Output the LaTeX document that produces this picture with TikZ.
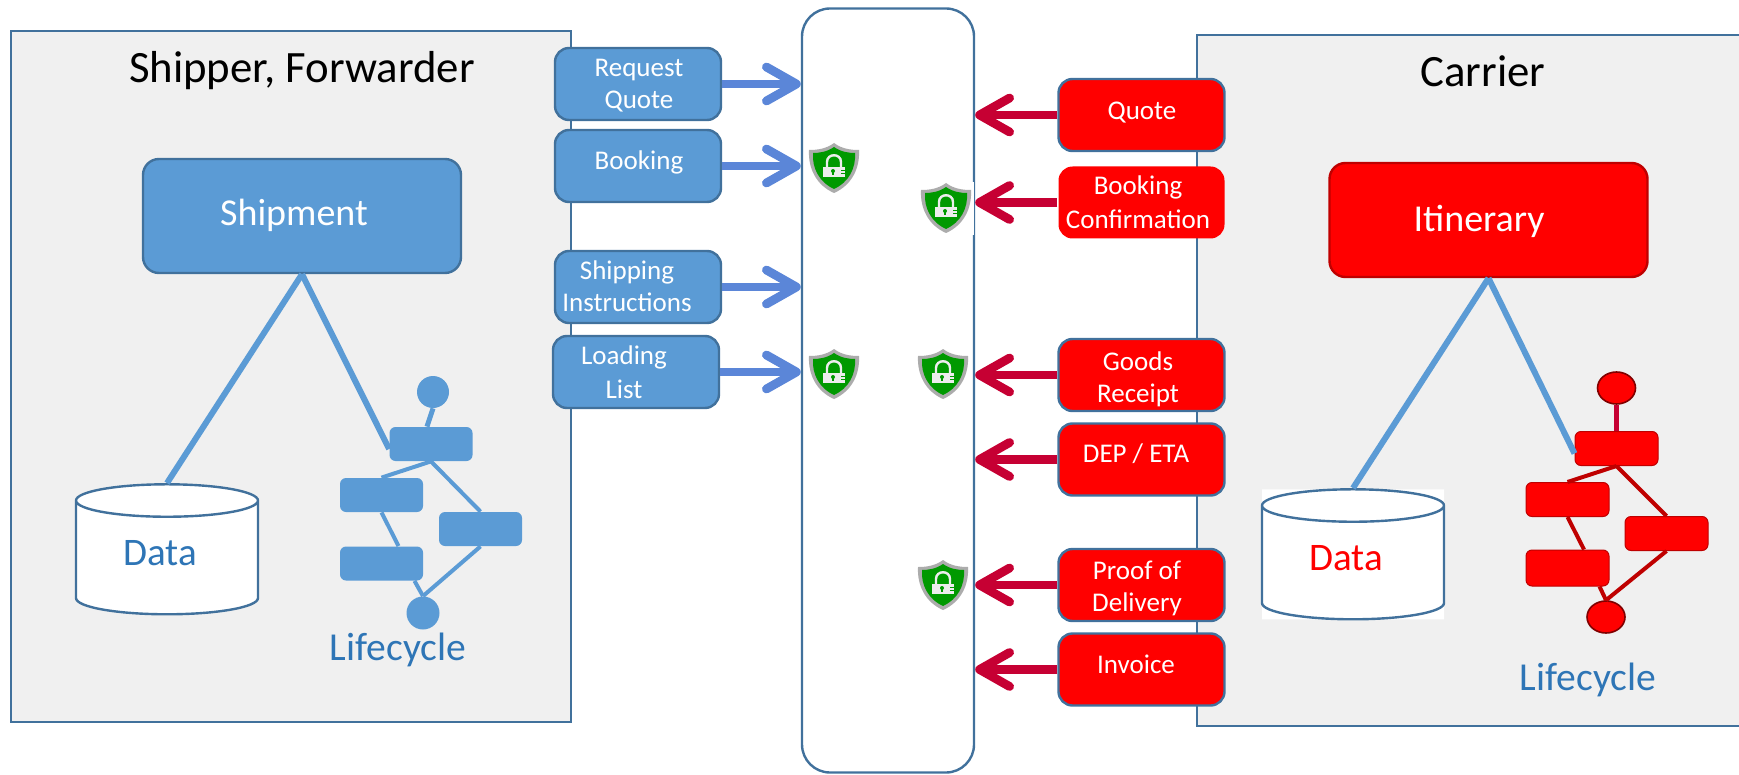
\documentclass[tikz,border=0pt]{standalone}
\usepackage{fontspec}
\setmainfont{Carlito}
\usetikzlibrary{arrows.meta,shapes.geometric}
\definecolor{paneledge}{HTML}{41719C}
\definecolor{panelgrey}{HTML}{F0F0F0}
\definecolor{msblue}{HTML}{5B9BD5}
\definecolor{flowblue}{HTML}{5B86D8}
\definecolor{flowred}{HTML}{C60033}
\definecolor{textblue}{HTML}{2E75B6}
\definecolor{shieldgreen}{HTML}{009900}
\tikzset{
    panel/.style={draw=paneledge, fill=panelgrey, line width=1.2pt, inner sep=0},
    bluebox/.style={draw=paneledge, fill=msblue, line width=1.2pt, rounded corners=7pt, minimum width=83pt, minimum height=36pt, inner sep=0},
    redbox/.style={draw=paneledge, fill=red, line width=1.2pt, rounded corners=7pt, minimum width=83pt, minimum height=36pt, inner sep=0},
    boxtext/.style={text=white, align=center, font=\fontsize{13.5}{16}\selectfont, inner sep=0},
    bigtext/.style={text=white, font=\fontsize{19}{22}\selectfont, inner sep=0},
    sidetitle/.style={font=\fontsize{22.4}{26}\selectfont, inner sep=0},
    lifetext/.style={text=textblue, font=\fontsize{19.8}{24}\selectfont, inner sep=0},
    bluestep/.style={fill=msblue, rounded corners=3pt, minimum width=41.5pt, minimum height=17pt, inner sep=0},
    redstep/.style={draw=red!75!black, fill=red, line width=.5pt, rounded corners=3pt, minimum width=41.5pt, minimum height=17pt, inner sep=0},
    datacyl/.style={cylinder, shape border rotate=90, shape aspect=.374, draw=paneledge, line width=1.2pt, minimum width=91pt, minimum height=65pt, inner sep=0, font=\fontsize{19.5}{24}\selectfont},
    blueflow/.style={draw=flowblue, line width=4.4pt, -{Straight Barb[length=15pt, width=17pt, round]}},
    redflow/.style={draw=flowred, line width=4.4pt, -{Straight Barb[length=15pt, width=17pt, round]}},
    shield/.pic={
        \fill [gray!65] (0,-25) .. controls (-8,-19) and (-17,-18) .. (-25,-18) .. controls (-26,0) and (-18,17) .. (0,25) .. controls (18,17) and (26,0) .. (25,-18) .. controls (17,-18) and (8,-19) .. (0,-25) -- cycle;
        \fill [shieldgreen] (0,-21) .. controls (-7,-16) and (-15,-15) .. (-21,-15) .. controls (-22,0) and (-15,14) .. (0,21) .. controls (15,14) and (22,0) .. (21,-15) .. controls (15,-15) and (7,-16) .. (0,-21) -- cycle;
        \draw [white!93!black, line width=1.2pt] (-7,-1) -- (-7,-6) .. controls (-7,-15) and (7,-15) .. (7,-6) -- (7,-1);
        \fill [white!93!black] (-11,-1) -- (11,-1) -- (11,9) -- (-11,9) -- cycle;
        \fill [shieldgreen] (-1,3) circle (1pt);
        \fill [shieldgreen] (-2,3) -- (0,3) -- (0,7) -- (-2,7) -- cycle;
        \draw [shieldgreen, line width=.4pt] (7,2) -- (11,2) (7,5) -- (11,5);
    }
}
\begin{document}
\begin{tikzpicture}[x=0.5pt, y=-0.5pt]
    \useasboundingbox (0,0) rectangle (1739,775);
    % the two side panels and the hub between them
    \node [panel, minimum width=280pt, minimum height=345.5pt] (shipper) at (291,376.5) {};
    \node [panel, minimum width=300pt, minimum height=345.5pt] (carrier) at (1497,380.5) {};
    \node [draw=paneledge, fill=white, line width=1.2pt, rounded corners=14pt, minimum width=86pt, minimum height=382pt] (hub) at (888,390.5) {};
    \node [sidetitle] (shippertitle) at (302,71) {Shipper, Forwarder};
    \node [sidetitle] (carriertitle) at (1483,71) {Carrier};

    % left side
    \node [bluebox, minimum width=159pt, minimum height=57pt, rounded corners=8pt] (shipment) at (302,216) {};
    \node [bigtext] (shipmenttext) at (294,215) {Shipment};
    \node [datacyl, fill=white, text=textblue] (bluedata) at (167,558) {\raisebox{5.5pt}{Data\kern6.6pt}};
    \node [circle, fill=msblue, minimum size=16pt, inner sep=0] (bluestart) at (433,392) {};
    \node [bluestep] (blueone) at (431,444) {};
    \node [bluestep] (bluetwo) at (381.5,495) {};
    \node [bluestep] (bluethree) at (480.5,529) {};
    \node [bluestep] (bluefour) at (381.5,563.5) {};
    \node [circle, fill=msblue, minimum size=16.5pt, inner sep=0] (blueend) at (423,613) {};
    \node [lifetext] (bluelife) at (398,650) {Lifecycle};
    \draw [msblue, line width=3pt] (shipment.south) -- (bluedata.top);
    \draw [msblue, line width=3pt] (shipment.south) -- ([yshift=-2.5pt]blueone.west);
    \draw [msblue, line width=2.5pt] (bluestart.south) -- ([xshift=-2pt]blueone.north);
    \draw [msblue, line width=2pt] (blueone.south) -- (bluetwo.north);
    \draw [msblue, line width=2pt] (blueone.south) -- (bluethree.north);
    \draw [msblue, line width=2pt] (bluetwo.south) -- ([xshift=8.5pt]bluefour.north);
    \draw [msblue, line width=2pt] ([xshift=16.5pt]bluefour.south) -- (blueend.north);
    \draw [msblue, line width=2pt] (bluethree.south) -- (blueend.north);

    % right side
    \node [redbox, draw=red!75!black, minimum width=159pt, minimum height=57pt, rounded corners=8pt] (itinerary) at (1488.5,220) {};
    \node [bigtext] (itinerarytext) at (1479,221) {Itinerary};
    \node [datacyl, draw=none, fill=white] (redback) at (1353,555) {};
    \node [datacyl, text=red] (reddata) at (1353,563) {\raisebox{5.5pt}{Data\kern6.6pt}};
    \node [ellipse, draw=red!50!black, fill=red, line width=.8pt, minimum width=19pt, minimum height=16pt, inner sep=0] (redstart) at (1616.5,388) {};
    \node [redstep] (redone) at (1616.5,448.5) {};
    \node [redstep] (redtwo) at (1567.5,499.5) {};
    \node [redstep] (redthree) at (1666.5,533.5) {};
    \node [redstep, minimum height=18pt] (redfour) at (1567.5,568) {};
    \node [ellipse, draw=red!50!black, fill=red, line width=.8pt, minimum width=19pt, minimum height=16pt, inner sep=0] (redend) at (1606,617) {};
    \node [lifetext] (redlife) at (1588,680) {Lifecycle};
    \draw [msblue, line width=3pt] (itinerary.south) -- (reddata.top);
    \draw [msblue, line width=3pt] (itinerary.south) -- ([yshift=-2.5pt]redone.west);
    \draw [flowred, line width=2.5pt] (redstart.south) -- (redone.north);
    \draw [red!75!black, line width=2pt] (redone.south) -- (redtwo.north);
    \draw [red!75!black, line width=2pt] (redone.south) -- (redthree.north);
    \draw [red!75!black, line width=2pt] (redtwo.south) -- ([xshift=8.25pt]redfour.north);
    \draw [red!75!black, line width=2pt] ([xshift=16pt]redfour.south) -- (redend.north);
    \draw [red!75!black, line width=2pt] (redthree.south) -- (redend.north);

    % messages going to the hub
    \node [bluebox] (requestquote) at (638,84) {};
    \node [bluebox] (booking) at (638,166) {};
    \node [bluebox] (shippinginstr) at (638,287) {};
    \node [bluebox] (loadinglist) at (636,372) {};
    \node [boxtext] (requestquotetext) at (639,86) {Request\\Quote};
    \node [boxtext] (bookingtext) at (639,162) {Booking};
    \node [boxtext] (shippinginstrtext) at (627,286) {Shipping\\Instructions};
    \node [boxtext, font=\fontsize{13.5}{17}\selectfont] (loadinglisttext) at (624,372) {Loading\\List};
    \draw [blueflow] (requestquote.east) -- (requestquote.east -| hub.west);
    \draw [blueflow] (booking.east) -- (booking.east -| hub.west);
    \draw [blueflow] (shippinginstr.east) -- (shippinginstr.east -| hub.west);
    \draw [blueflow] (loadinglist.east) -- (loadinglist.east -| hub.west);

    % messages coming from the hub
    \node [redbox] (quote) at (1141.5,115) {};
    \node [redbox, draw=none] (bookingconf) at (1141.5,202.5) {};
    \node [redbox] (goodsreceipt) at (1141.5,375) {};
    \node [redbox] (depeta) at (1141.5,459.5) {};
    \node [redbox] (proofdelivery) at (1141.5,585) {};
    \node [redbox] (invoice) at (1141.5,669.5) {};
    \node [boxtext] (quotetext) at (1142,113) {Quote};
    \node [boxtext, font=\fontsize{13.5}{17}\selectfont] (bookingconftext) at (1138,202) {Booking\\Confirmation};
    \node [boxtext] (goodsreceipttext) at (1138,379) {Goods\\Receipt};
    \node [boxtext] (depetatext) at (1136,454) {DEP / ETA};
    \node [boxtext] (proofdeliverytext) at (1137,588) {Proof of\\Delivery};
    \node [boxtext] (invoicetext) at (1136,664) {Invoice};
    \draw [redflow] (quote.west) -- (quote.west -| hub.east);
    \draw [redflow] (bookingconf.west) -- (bookingconf.west -| hub.east);
    \draw [redflow] (goodsreceipt.west) -- (goodsreceipt.west -| hub.east);
    \draw [redflow] (depeta.west) -- (depeta.west -| hub.east);
    \draw [redflow] (proofdelivery.west) -- (proofdelivery.west -| hub.east);
    \draw [redflow] (invoice.west) -- (invoice.west -| hub.east);

    % shields
    \fill [white] (971,182) rectangle (973.5,235);
    \pic (shieldone) at (834,168) {shield};
    \pic (shieldtwo) at (946,208) {shield};
    \pic (shieldthree) at (834,374) {shield};
    \pic (shieldfour) at (943,374) {shield};
    \pic (shieldfive) at (943,585) {shield};
\end{tikzpicture}
\end{document}
